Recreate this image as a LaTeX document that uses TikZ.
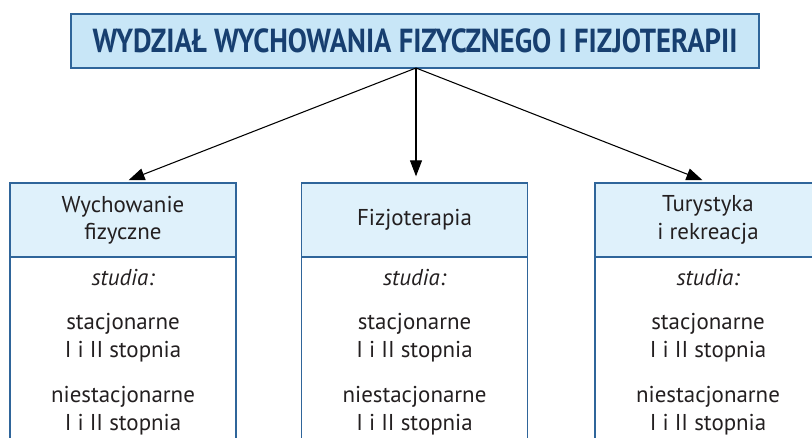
\documentclass[tikz,border=0pt]{standalone}
\usepackage{fontspec}
\setmainfont{PT Sans}
\newfontfamily\titlefont[FakeStretch=0.86]{PT Sans}
\usetikzlibrary{arrows.meta}
\definecolor{titlefill}{HTML}{C8E6F7}
\definecolor{headfill}{HTML}{DFF1FB}
\definecolor{boxline}{HTML}{2F659A}
\definecolor{titletext}{HTML}{173F70}
\definecolor{bodytext}{HTML}{231F20}
\tikzset{
  titlebox/.style={draw=boxline, line width=1pt, fill=titlefill, minimum width=688*0.75pt, minimum height=54*0.75pt, inner sep=0pt,
    font=\titlefont\bfseries\fontsize{25}{28}\selectfont, text=titletext},
  headbox/.style={draw=boxline, line width=1pt, fill=headfill, minimum width=226*0.75pt, minimum height=74*0.75pt, inner sep=0pt,
    align=center, font=\fontsize{17.2}{20.5}\selectfont, text=bodytext},
  bodybox/.style={draw=boxline, line width=1pt, minimum width=226*0.75pt, minimum height=200*0.75pt, inner sep=0pt},
  bodytxt/.style={align=center, font=\fontsize{17.2}{21}\selectfont, text=bodytext, inner sep=0pt},
  link/.style={draw=black, line width=0.8pt, shorten >=4.5pt, -{Triangle[length=12pt,width=9pt]}}
}
\begin{document}
\begin{tikzpicture}[x=0.75pt,y=-0.75pt]
\useasboundingbox (0,0) rectangle (812,438);
\clip (0,0) rectangle (812,438);
\node[titlebox] (title) at (415,41) {WYDZIAŁ WYCHOWANIA FIZYCZNEGO I FIZJOTERAPII};
% bodies
\node[bodybox, anchor=north] (b1) at (123,257) {};
\node[bodybox, anchor=north] (b2) at (414.5,257) {};
\node[bodybox, anchor=north] (b3) at (708,257) {};
% headers
\node[headbox] (h1) at (123,220) {Wychowanie\\fizyczne};
\node[headbox] (h2) at (414.5,220) {Fizjoterapia};
\node[headbox] (h3) at (708,220) {Turystyka\\i rekreacja};
% texts
\foreach \i/\x in {1/123,2/414.5,3/708}{
  \node[bodytxt] (s\i) at (\x,278) {\itshape studia:};
  \node[bodytxt] (st\i) at (\x,338) {stacjonarne\\I i II stopnia};
  \node[bodytxt] (ns\i) at (\x,410.5) {niestacjonarne\\I i II stopnia};
}
\coordinate (o) at (416,68);
\draw[link] (o) -- (h1.north);
\draw[link] (o) -- (h2.north -| o);
\draw[link] (o) -- (h3.north);
\end{tikzpicture}
\end{document}
